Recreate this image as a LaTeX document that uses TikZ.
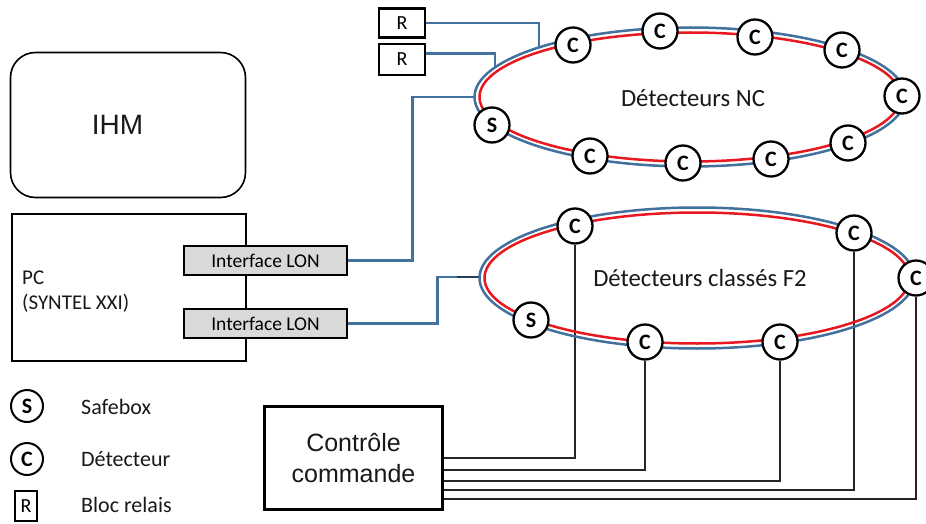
\documentclass[tikz,border=0pt]{standalone}
\usepackage{fontspec}
\setmainfont{Carlito}
\newfontfamily\arialf{Liberation Sans}
\usetikzlibrary{calc}
\pgfdeclarelayer{canvaslayer}
\pgfdeclarelayer{background}
\pgfsetlayers{canvaslayer,background,main}
\definecolor{wireblue}{RGB}{65,113,156}
\definecolor{wirered}{RGB}{232,24,32}
\definecolor{longray}{RGB}{217,217,217}
\definecolor{txt}{RGB}{25,25,25}
\tikzset{
 det/.style={circle, draw=black, fill=white, line width=2.3pt, minimum size=35pt, inner sep=0pt, font=\fontsize{22}{22}\selectfont\bfseries},
 relbox/.style={draw=black, line width=2.5pt, minimum width=46pt, minimum height=29pt, inner sep=0pt, font=\fontsize{20}{20}\selectfont},
 lonbox/.style={draw=black, fill=longray, line width=2.2pt, minimum width=163pt, minimum height=29pt, inner sep=0pt, font=\fontsize{19.5}{20}\selectfont},
 bluewire/.style={draw=wireblue, line width=2.8pt},
 ringblue/.style={draw=wireblue, line width=2.5pt},
 ringred/.style={draw=wirered, line width=2.5pt},
 ctrl/.style={draw=black!85, line width=1.6pt},
 lbl/.style={font=\fontsize{24.7}{26}\selectfont, inner sep=0pt, text=txt},
 legtext/.style={font=\fontsize{22}{24}\selectfont, anchor=west, inner sep=0pt, text=txt},
}
\begin{document}
\begin{tikzpicture}[x=1pt,y=-1pt]
\begin{pgfonlayer}{canvaslayer}
\fill[white] (0,0) rectangle (926,524);
\end{pgfonlayer}
\useasboundingbox (0,0) rectangle (926,524);
% IHM
\node[draw, line width=1.6pt, rounded corners=25pt, minimum width=235pt, minimum height=145pt] (ihm) at (128,125) {};
\node[font=\arialf\fontsize{28}{30}\selectfont, text=txt] (ihmtext) at (117.5,125) {IHM};
% PC
\node[draw, line width=2.2pt, minimum width=234pt, minimum height=147pt] (pc) at (129,287.5) {};
\node[anchor=base west, inner sep=0pt, font=\fontsize{21}{24}\selectfont, text=txt] (pct1) at (22,284) {PC};
\node[anchor=base west, inner sep=0pt, font=\fontsize{21}{24}\selectfont, text=txt] (pct2) at (22,309) {(SYNTEL XXI)};
\node[lonbox] (if1) at (265.5,260.5) {Interface LON};
\node[lonbox] (if2) at (265.5,323.5) {Interface LON};
% relay boxes
\node[relbox] (r1) at (402,23) {R};
\node[relbox, minimum height=31pt] (r2) at (402,59.5) {R};
% rings
\draw[ringblue] (690,97) ellipse [x radius=215.5pt, y radius=69.5pt];
\draw[ringred] (690,97) ellipse [x radius=210.5pt, y radius=64.5pt];
\draw[ringblue] (697,278) ellipse [x radius=217.5pt, y radius=70.5pt];
\draw[ringred] (697,278) ellipse [x radius=212.5pt, y radius=65.5pt];
\node[lbl] (ncl) at (693,98) {Détecteurs NC};
\node[lbl] (f2l) at (700,278) {Détecteurs classés F2};
% NC detectors
\node[det] (n1) at (573,45) {C};
\node[det] (n2) at (660,31) {C};
\node[det] (n3) at (755,37) {C};
\node[det] (n4) at (842,50) {C};
\node[det] (n5) at (902,96) {C};
\node[det] (n6) at (848,143) {C};
\node[det] (n7) at (771,159) {C};
\node[det] (n8) at (683,163) {C};
\node[det] (n9) at (590,156) {C};
\node[det] (ns) at (492,125) {S};
% F2 detectors
\node[det] (f1) at (575,226) {C};
\node[det] (f2) at (854,233) {C};
\node[det] (f3) at (916,278) {C};
\node[det] (f4) at (780,342) {C};
\node[det] (f5) at (645,342) {C};
\node[det] (fs) at (531,320) {S};
% control
\node[draw, line width=3pt, minimum width=178pt, minimum height=103pt, align=center, font=\arialf\fontsize{25}{31}\selectfont, text=txt] (cc) at (353.5,458) {Contrôle\\commande};
% legend
\node[det, minimum size=32pt, line width=2pt] (legS) at (27,406) {S};
\node[det, minimum size=32pt, line width=2pt] (legC) at (27,459) {C};
\node[relbox, minimum width=22pt, minimum height=30pt, line width=1.8pt] (legR) at (26,506) {R};
\node[legtext] (legSt) at (81,407) {Safebox};
\node[legtext] (legCt) at (81,459) {Détecteur};
\node[legtext] (legRt) at (81,505) {Bloc relais};
% wires
\coordinate (nc1) at (539,48);
\coordinate (nc2) at (495,68);
\coordinate (nc3) at (474,97);
\coordinate (nc4) at (481,277);
\coordinate (nc4a) at (457,277);
\begin{pgfonlayer}{background}
\draw[bluewire] (r1.east) -| (nc1);
\draw[bluewire] ([yshift=6pt]r2.east) -| (nc2);
\draw[bluewire] (if1.east) -- ++(64,0) |- (nc3);
\draw[bluewire] (if2.east) -- ++(89,0) |- (nc4);
\draw[draw=wireblue!55!black, line width=2.8pt] (nc4a) -- (nc4);
\draw[ctrl] (cc.east) -| (f1.south);
\draw[ctrl] ([yshift=-12pt]cc.east) -| (f5.south);
\draw[ctrl] ([yshift=-23pt]cc.east) -| (f4.south);
\draw[ctrl] ([yshift=-32pt]cc.east) -| (f2.south);
\draw[ctrl] ([yshift=-41pt]cc.east) -| (f3.south);
\end{pgfonlayer}
\end{tikzpicture}
\end{document}
